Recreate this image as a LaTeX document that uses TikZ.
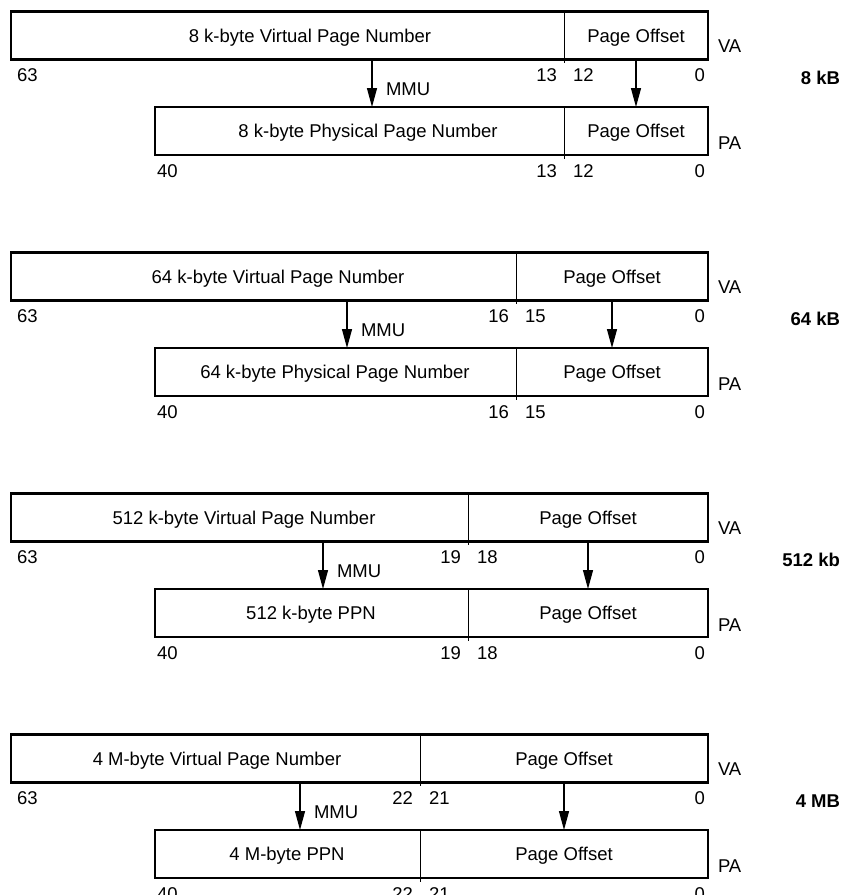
\documentclass[tikz,border=0pt]{standalone}
\usepackage{fontspec}
\setmainfont{Liberation Sans}
\usetikzlibrary{arrows.meta, positioning}

\begin{document}
\begin{tikzpicture}[
    x=1pt, y=-1pt,
    every node/.style={font=\fontsize{18.5}{22}\selectfont, inner sep=0pt, outer sep=0pt},
    celltext/.style={text height=13.5pt, text depth=0pt},
    cell/.style={rectangle, celltext, minimum height=48pt},
    frame/.style={line width=2.6pt},
    divider/.style={line width=1pt},
    arrow/.style={line width=1.3pt, -{Triangle[length=19pt, width=10pt]}},
    sizelabel/.style={font=\fontsize{18.5}{22}\selectfont\bfseries, anchor=east}
]
\useasboundingbox (0,0) rectangle (843,895);

\foreach \k/\dv/\vx/\vtxt/\px/\ptxt/\hb/\lb/\mx/\size in {
    0/564/310/8 k-byte Virtual Page Number/368/8 k-byte Physical Page Number/13/12/372/8 kB,
    1/516/278/64 k-byte Virtual Page Number/335/64 k-byte Physical Page Number/16/15/347/64 kB,
    2/468/244/512 k-byte Virtual Page Number/311/512 k-byte PPN/19/18/323/512 kb,
    3/420/217/4 M-byte Virtual Page Number/287/4 M-byte PPN/22/21/300/4 MB}
{
    \pgfmathsetmacro\yo{241*\k}
    \pgfmathsetmacro\vw{\dv-11}
    \pgfmathsetmacro\pw{\dv-155}
    \pgfmathsetmacro\ow{708-\dv}

    % virtual address
    \node[cell, minimum width=\vw pt] (vpn\k) at ({(11+\dv)/2}, \yo+35.25) {};
    \node[cell, minimum width=\ow pt] (voff\k) at ({(\dv+708)/2}, \yo+35.25) {Page Offset};
    \node[celltext] (vpntext\k) at (\vx, \yo+35.25) {\vtxt};
    \draw[frame] (vpn\k.north west) rectangle (voff\k.south east);
    \draw[divider] (voff\k.north west) -- ([yshift=-4pt]voff\k.south west);
    \node[anchor=base west] (valabel\k) at ([xshift=10pt, yshift=6.5pt]voff\k.south east) {VA};

    % physical address
    \node[cell, minimum width=\pw pt] (ppn\k) at ({(155+\dv)/2}, \yo+131) {};
    \node[cell, minimum width=\ow pt] (poff\k) at ({(\dv+708)/2}, \yo+131) {Page Offset};
    \node[celltext] (ppntext\k) at (\px, \yo+131) {\ptxt};
    \draw[frame] (ppn\k.north west) rectangle (poff\k.south east);
    \draw[divider] (poff\k.north west) -- ([yshift=-4pt]poff\k.south west);
    \node[anchor=base west] (palabel\k) at ([xshift=10pt, yshift=6pt]poff\k.south east) {PA};

    % bit numbers
    \node[anchor=base west] (vtop\k) at ([xshift=6pt, yshift=-22pt]vpn\k.south west) {63};
    \node[anchor=base east] (vhb\k) at ([xshift=-7pt, yshift=-22pt]voff\k.south west) {\hb};
    \node[anchor=base west] (vlb\k) at ([xshift=9pt, yshift=-22pt]voff\k.south west) {\lb};
    \node[anchor=base east] (vzero\k) at ([xshift=-3pt, yshift=-22pt]voff\k.south east) {0};
    \node[anchor=base west] (ptop\k) at ([xshift=2pt, yshift=-22pt]ppn\k.south west) {40};
    \node[anchor=base east] (phb\k) at ([xshift=-7pt, yshift=-22pt]poff\k.south west) {\hb};
    \node[anchor=base west] (plb\k) at ([xshift=9pt, yshift=-22pt]poff\k.south west) {\lb};
    \node[anchor=base east] (pzero\k) at ([xshift=-3pt, yshift=-22pt]poff\k.south east) {0};

    % translation
    \coordinate (mmu\k) at (\mx, \yo);
    \draw[arrow] (vpn\k.south -| mmu\k) -- node[pos=0.63, anchor=west, xshift=14pt] (mmutext\k) {MMU} (ppn\k.north -| mmu\k);
    \draw[arrow] (voff\k.south) -- (poff\k.north);

    \node[sizelabel] (size\k) at (840, \yo+78) {\size};
}
\end{tikzpicture}
\end{document}
